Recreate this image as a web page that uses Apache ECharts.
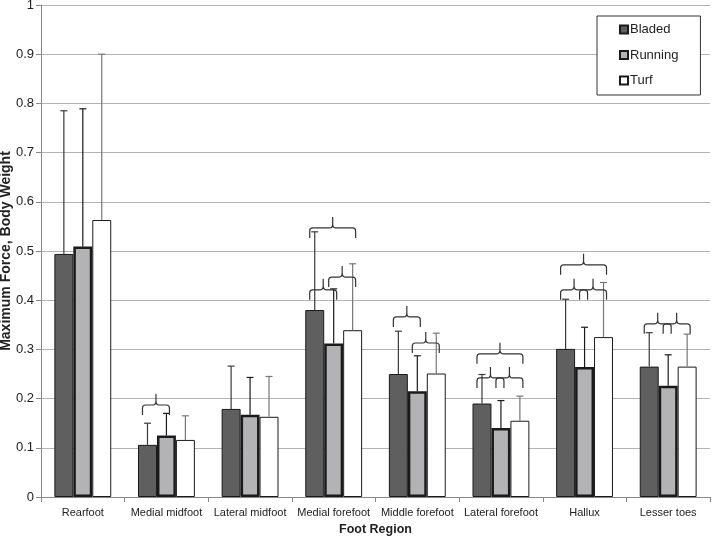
<!DOCTYPE html>
<html>
<head>
<meta charset="utf-8">
<script src="https://cdn.jsdelivr.net/npm/echarts@6/dist/echarts.min.js"></script>
<style>
html,body{margin:0;padding:0;background:#fff;}
#chart{width:714px;height:538px;}
</style>
</head>
<body>
<div id="chart"></div>
<script>
var categories = ['Rearfoot','Medial midfoot','Lateral midfoot','Medial forefoot','Middle forefoot','Lateral forefoot','Hallux','Lesser toes'];
var seriesNames = ['Bladed','Running','Turf'];
var bladed  = [0.494, 0.106, 0.179, 0.380, 0.250, 0.190, 0.301, 0.265];
var running = [0.509, 0.125, 0.167, 0.312, 0.215, 0.140, 0.264, 0.226];
var turf    = [0.563, 0.116, 0.163, 0.339, 0.251, 0.155, 0.325, 0.265];
var bladedSD  = [0.291, 0.044, 0.087, 0.159, 0.087, 0.059, 0.101, 0.069];
var runningSD = [0.280, 0.045, 0.076, 0.111, 0.072, 0.056, 0.081, 0.063];
var turfSD    = [0.337, 0.049, 0.082, 0.135, 0.082, 0.050, 0.111, 0.066];
// significance braces: [category index, from series, to series, value level]
var braces = [
  [1, 0, 1, 0.187],
  [3, 0, 2, 0.547], [3, 0, 1, 0.421], [3, 1, 2, 0.447],
  [4, 0, 1, 0.366], [4, 1, 2, 0.313],
  [5, 0, 2, 0.291], [5, 0, 1, 0.242], [5, 1, 2, 0.242],
  [6, 0, 2, 0.472], [6, 0, 1, 0.421], [6, 1, 2, 0.421],
  [7, 0, 1, 0.352], [7, 1, 2, 0.352]
];

var means = [bladed, running, turf];
var sds = [bladedSD, runningSD, turfSD];
var fills = ['#5f5f5f', '#b3b3b5', '#ffffff'];
var borderW = [1, 2.5, 1];
var errColors = ['#3a3a3a', '#1a1a1a', '#777777'];
var CAT_GAP = 0.32;
var SANS = '"Liberation Sans", Arial, sans-serif';

function barCenter(api, cat, s) {
  var bw = api.size([1, 0])[0];
  var w = bw * (1 - CAT_GAP) / 3;
  return api.coord([cat, 0])[0] + (s - 1) * w;
}

var series = [];
seriesNames.forEach(function (name, s) {
  series.push({
    name: name,
    type: 'bar',
    data: means[s],
    barGap: '0%',
    barCategoryGap: (CAT_GAP * 100) + '%',
    itemStyle: { color: fills[s], borderColor: '#1a1a1a', borderWidth: borderW[s] },
    z: 2,
    silent: true
  });
});
seriesNames.forEach(function (name, s) {
  series.push({
    type: 'custom',
    name: name + ' err',
    data: means[s].map(function (m, i) { return [i, m, m + sds[s][i]]; }),
    z: 3,
    silent: true,
    renderItem: function (params, api) {
      var cat = api.value(0);
      var x = barCenter(api, cat, s);
      var y0 = api.coord([cat, api.value(1)])[1];
      var y1 = api.coord([cat, api.value(2)])[1];
      var st = { stroke: errColors[s], lineWidth: 1.2 };
      return { type: 'group', children: [
        { type: 'line', shape: { x1: x, y1: y0, x2: x, y2: y1 }, style: st },
        { type: 'line', shape: { x1: x - 3.5, y1: y1, x2: x + 3.5, y2: y1 }, style: st }
      ]};
    }
  });
});
series.push({
  type: 'custom',
  name: 'braces',
  data: braces,
  z: 4,
  silent: true,
  renderItem: function (params, api) {
    var cat = api.value(0);
    var x1 = barCenter(api, cat, api.value(1)) - 5;
    var x2 = barCenter(api, cat, api.value(2)) + 3;
    var y = api.coord([cat, api.value(3)])[1];
    var xm = (x1 + x2) / 2;
    var d = 'M' + x1 + ' ' + (y + 10) + ' L' + x1 + ' ' + (y + 3) +
      ' Q' + x1 + ' ' + y + ' ' + (x1 + 3) + ' ' + y +
      ' L' + (xm - 3) + ' ' + y +
      ' Q' + xm + ' ' + y + ' ' + xm + ' ' + (y - 4) +
      ' L' + xm + ' ' + (y - 11) +
      ' M' + xm + ' ' + (y - 4) +
      ' Q' + xm + ' ' + y + ' ' + (xm + 3) + ' ' + y +
      ' L' + (x2 - 3) + ' ' + y +
      ' Q' + x2 + ' ' + y + ' ' + x2 + ' ' + (y + 3) +
      ' L' + x2 + ' ' + (y + 10);
    return { type: 'path', shape: { pathData: d }, style: { stroke: '#333', lineWidth: 1.2, fill: null } };
  }
});

var chart = echarts.init(document.getElementById('chart'), null, { renderer: 'canvas' });
chart.setOption({
  animation: false,
  backgroundColor: '#fff',
  textStyle: { fontFamily: SANS },
  grid: { left: 41, right: 4, top: 5, bottom: 41, containLabel: false, outerBoundsMode: 'none' },
  legend: {
    data: seriesNames,
    orient: 'vertical',
    left: 597, top: 16,
    backgroundColor: '#fff',
    borderColor: '#333', borderWidth: 1,
    padding: [7, 22, 8, 22],
    itemWidth: 8, itemHeight: 8, itemGap: 12.5,
    icon: 'rect',
    textStyle: { fontSize: 13, color: '#222', fontFamily: SANS, padding: [0, 0, 0, -3] },
    selectedMode: false
  },
  xAxis: {
    type: 'category',
    data: categories,
    name: 'Foot Region',
    nameLocation: 'middle',
    nameGap: 25,
    nameTextStyle: { fontSize: 12.5, fontWeight: 'bold', color: '#222', fontFamily: SANS },
    axisLine: { lineStyle: { color: '#888', width: 1 } },
    axisTick: { show: true, length: 5, lineStyle: { color: '#888' } },
    axisLabel: { fontSize: 11, color: '#222', margin: 10, interval: 0, fontFamily: SANS }
  },
  yAxis: {
    type: 'value',
    min: 0, max: 1, interval: 0.1,
    name: 'Maximum Force, Body Weight',
    nameLocation: 'middle',
    nameGap: 28,
    nameMoveOverlap: false,
    nameTextStyle: { fontSize: 14, fontWeight: 'bold', color: '#222', fontFamily: SANS },
    axisLine: { show: true, lineStyle: { color: '#888', width: 1 } },
    axisTick: { show: true, length: 5, lineStyle: { color: '#888' } },
    axisLabel: { fontSize: 13, color: '#222', margin: 7 },
    splitLine: { lineStyle: { color: '#b4b4b4', width: 1.2 } }
  },
  series: series
});
</script>
</body>
</html>
